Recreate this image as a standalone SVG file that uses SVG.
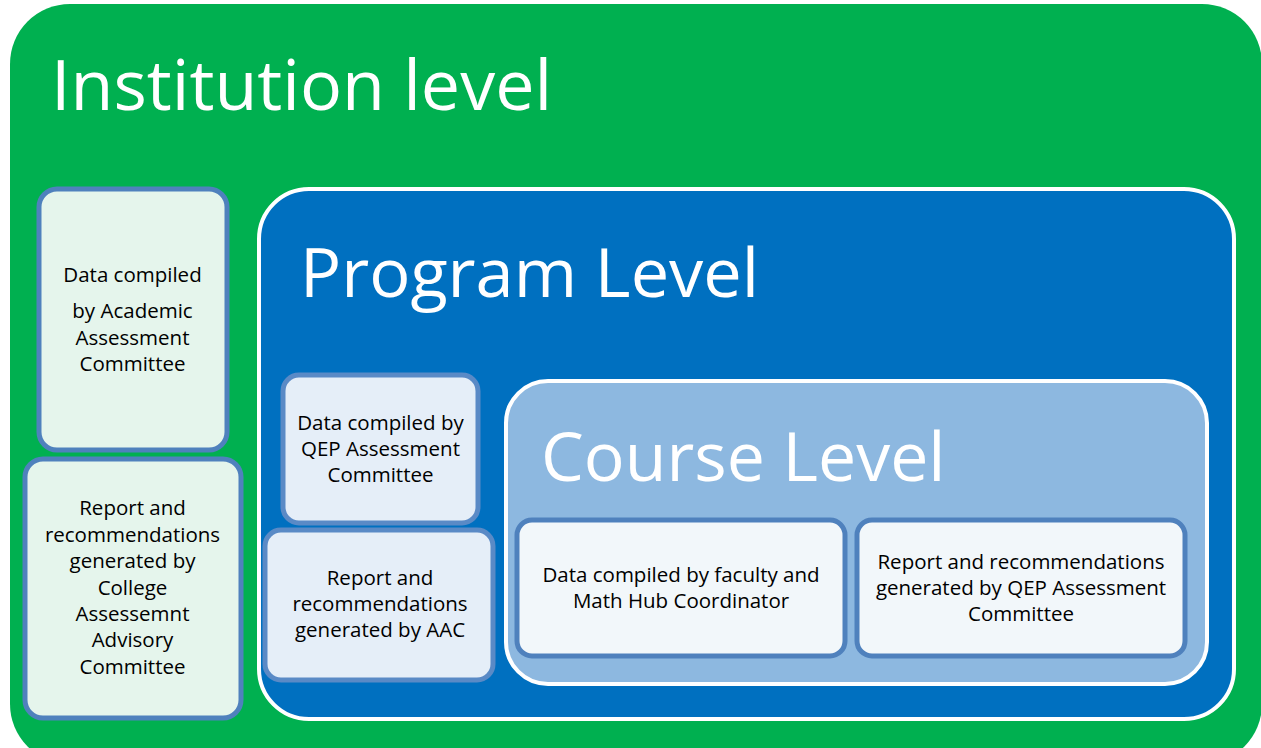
<svg xmlns="http://www.w3.org/2000/svg" width="1261" height="748" viewBox="0 0 1261 748">
<style>
text{font-family:"Open Sans","Noto Sans","Liberation Sans",sans-serif}
.title{fill:#FFFFFF;font-size:70px}
.lbl{fill:#000000;font-size:20.5px;text-anchor:middle}
.inst{fill:#E5F5EC;stroke:#4F81BD;stroke-width:5}
.prog{fill:#E5EEF8;stroke:#5A8AC6;stroke-width:5}
.course{fill:#F2F7FA;stroke:#4F81BD;stroke-width:5}
</style>
<rect width="1261" height="748" fill="#FFFFFF"/>
<g id="institution">
<rect x="10" y="4" width="1252" height="760" rx="60" fill="#00B050"/>
<text class="title" x="51" y="110">Institution level</text>
</g>
<g id="inst-data">
<rect class="inst" x="39" y="189" width="188" height="261" rx="18"/>
<text class="lbl"><tspan x="132.5" y="282">Data compiled</tspan><tspan x="132.5" y="318">by Academic</tspan><tspan x="132.5" y="345">Assessment</tspan><tspan x="132.5" y="371">Committee</tspan></text>
</g>
<g id="inst-report">
<rect class="inst" x="25" y="459" width="216" height="259" rx="18"/>
<text class="lbl"><tspan x="132.5" y="515">Report and</tspan><tspan x="132.5" y="542">recommendations</tspan><tspan x="132.5" y="568">generated by</tspan><tspan x="132.5" y="595">College</tspan><tspan x="132.5" y="621">Assessemnt</tspan><tspan x="132.5" y="647">Advisory</tspan><tspan x="132.5" y="674">Committee</tspan></text>
</g>
<g id="program">
<rect x="259" y="189" width="975" height="530" rx="50" fill="#0070C0" stroke="#FFFFFF" stroke-width="4"/>
<text class="title" x="300" y="297" style="font-size:68.5px">Program Level</text>
</g>
<g id="prog-data">
<rect class="prog" x="283" y="375" width="195" height="148" rx="16"/>
<text class="lbl"><tspan x="380.5" y="430">Data compiled by</tspan><tspan x="380.5" y="456">QEP Assessment</tspan><tspan x="380.5" y="482">Committee</tspan></text>
</g>
<g id="prog-report">
<rect class="prog" x="265" y="530" width="228" height="150" rx="16"/>
<text class="lbl"><tspan x="380" y="585">Report and</tspan><tspan x="380" y="611">recommendations</tspan><tspan x="380" y="637">generated by AAC</tspan></text>
</g>
<g id="course">
<rect x="506" y="381" width="701" height="303" rx="42" fill="#8DB8E0" stroke="#FFFFFF" stroke-width="4"/>
<text class="title" x="541" y="481" style="font-size:68px">Course Level</text>
</g>
<g id="course-data">
<rect class="course" x="517" y="520" width="328" height="136" rx="15"/>
<text class="lbl"><tspan x="681" y="582">Data compiled by faculty and</tspan><tspan x="681" y="608">Math Hub Coordinator</tspan></text>
</g>
<g id="course-report">
<rect class="course" x="857" y="520" width="328" height="136" rx="15"/>
<text class="lbl"><tspan x="1021" y="569">Report and recommendations</tspan><tspan x="1021" y="595">generated by QEP Assessment</tspan><tspan x="1021" y="621">Committee</tspan></text>
</g>
<g id="connectors"/>
</svg>
